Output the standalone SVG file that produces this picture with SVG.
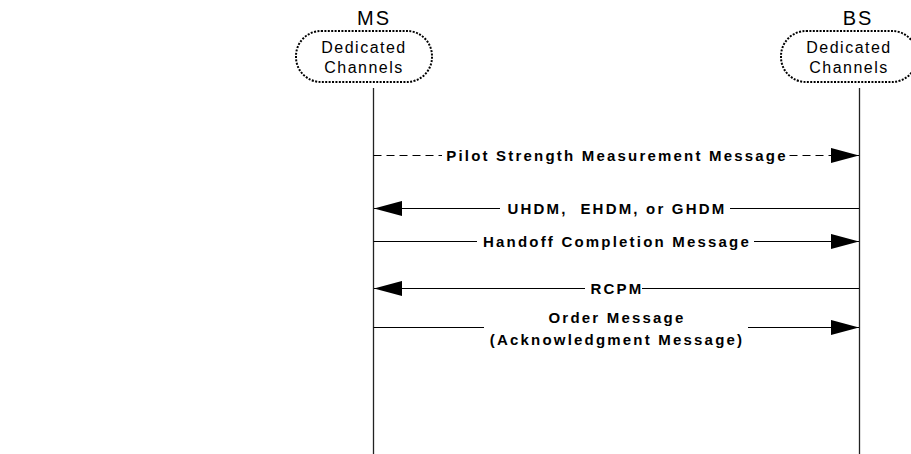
<svg xmlns="http://www.w3.org/2000/svg" width="911" height="454" viewBox="0 0 911 454">
  <style>
    .bg { fill: #ffffff; }
    .head { font-family: "Liberation Sans", Arial, sans-serif; font-size: 20px; letter-spacing: 2px; fill: #000; text-anchor: middle; }
    .state { fill: #ffffff; stroke: #000; stroke-width: 2; stroke-dasharray: 2 1.4; }
    .stateText { font-family: "Liberation Sans", Arial, sans-serif; font-size: 16px; letter-spacing: 1.5px; fill: #000; text-anchor: middle; }
    .life { stroke: #222; stroke-width: 1.3; fill: none; }
    .msg { stroke: #000; stroke-width: 1; fill: none; }
    .dashed { stroke-dasharray: 8 5; }
    .label { font-family: "Liberation Sans", Arial, sans-serif; font-size: 15px; font-weight: bold; letter-spacing: 2.2px; fill: #000; text-anchor: middle; }
    .mask { fill: #ffffff; }
  </style>
  <defs>
    <marker id="arrow" markerUnits="userSpaceOnUse" markerWidth="28" markerHeight="16" viewBox="0 0 26 14" refX="26" refY="7" orient="auto">
      <path d="M0,0 L26,7 L0,14 Z" fill="#000"/>
    </marker>
  </defs>

  <rect class="bg" x="0" y="0" width="911" height="454"/>

  <!-- Mobile station -->
  <g id="ms">
    <text class="head" x="374" y="25">MS</text>
    <line class="life" x1="373.5" y1="88" x2="373.5" y2="454"/>
    <rect class="state" x="296" y="31" width="136" height="51" rx="25" ry="25"/>
    <text class="stateText" x="364" y="53">Dedicated</text>
    <text class="stateText" x="364" y="73">Channels</text>
  </g>

  <!-- Base station -->
  <g id="bs">
    <text class="head" x="858" y="25">BS</text>
    <line class="life" x1="859.5" y1="88" x2="859.5" y2="454"/>
    <rect class="state" x="781" y="31" width="136" height="51" rx="25" ry="25"/>
    <text class="stateText" x="849" y="53">Dedicated</text>
    <text class="stateText" x="849" y="73">Channels</text>
  </g>

  <!-- Messages -->
  <g id="connectors">
    <line class="msg dashed" x1="373.5" y1="155.5" x2="859" y2="155.5" marker-end="url(#arrow)"/>
    <line class="msg" x1="859" y1="208.5" x2="374" y2="208.5" marker-end="url(#arrow)"/>
    <line class="msg" x1="373.5" y1="241.5" x2="859" y2="241.5" marker-end="url(#arrow)"/>
    <line class="msg" x1="859" y1="288.5" x2="374" y2="288.5" marker-end="url(#arrow)"/>
    <line class="msg" x1="373.5" y1="327.5" x2="859" y2="327.5" marker-end="url(#arrow)"/>
  </g>

  <g id="labels">
    <rect class="mask" x="442" y="150" width="347" height="11"/>
    <text class="label" x="617" y="161">Pilot Strength Measurement Message</text>

    <rect class="mask" x="500" y="203" width="230" height="11"/>
    <text class="label" x="617" y="214" xml:space="preserve">UHDM,  EHDM, or GHDM</text>

    <rect class="mask" x="477" y="236" width="277" height="11"/>
    <text class="label" x="617" y="247">Handoff Completion Message</text>

    <rect class="mask" x="585" y="283" width="57" height="11"/>
    <text class="label" x="617" y="294">RCPM</text>

    <rect class="mask" x="484" y="322" width="264" height="11"/>
    <text class="label" x="617" y="323">Order Message</text>
    <text class="label" x="617" y="345">(Acknowledgment Message)</text>
  </g>
</svg>
